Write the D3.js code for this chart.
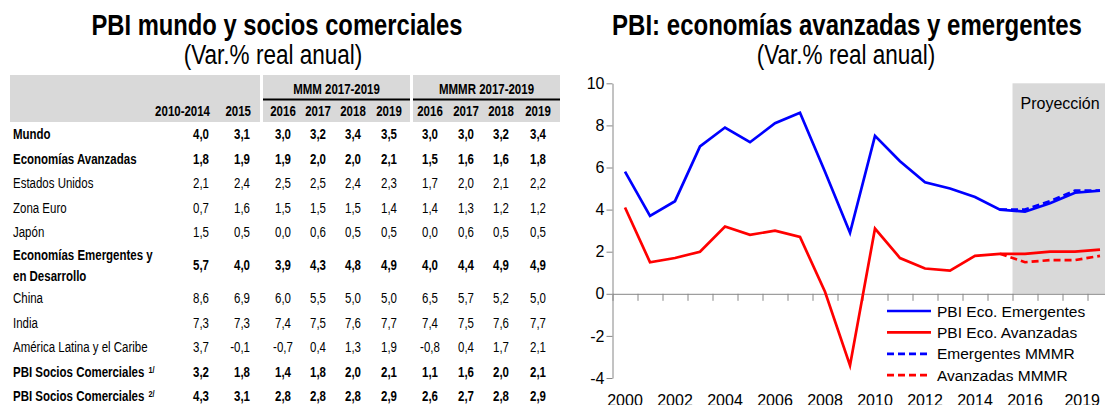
<!DOCTYPE html>
<html>
<head>
<meta charset="utf-8">
<script src="https://cdn.jsdelivr.net/npm/d3@7"></script>
<style>
  body { margin: 0; background: #fff; }
  svg { display: block; }
  text { font-family: "Liberation Sans", Arial, sans-serif; }
  .axis path, .axis line { stroke: #868686; }
  .axis text { fill: #000; font-size: 16px; font-family: "Liberation Sans", Arial, sans-serif; }
</style>
</head>
<body>
<svg id="fig" width="1105" height="405"></svg>
<script>
// ---- table data ----
var rowLabels = ["Mundo", "Economías Avanzadas", "Estados Unidos", "Zona Euro", "Japón",
    "Economías Emergentes y|en Desarrollo", "China", "India", "América Latina y el Caribe",
    "PBI Socios Comerciales", "PBI Socios Comerciales"];
var rowNotes = ["", "", "", "", "", "", "", "", "", "1/", "2/"];
var boldRows = [0, 1, 5, 9, 10];
var colHeaders = ["2010-2014", "2015", "2016", "2017", "2018", "2019", "2016", "2017", "2018", "2019"];
var groupHeaders = ["MMM 2017-2019", "MMMR 2017-2019"];

var avg1014  = [4.0, 1.8, 2.1, 0.7, 1.5, 5.7, 8.6, 7.3, 3.7, 3.2, 4.3];
var y2015    = [3.1, 1.9, 2.4, 1.6, 0.5, 4.0, 6.9, 7.3, -0.1, 1.8, 3.1];
var mmm2016  = [3.0, 1.9, 2.5, 1.5, 0.0, 3.9, 6.0, 7.4, -0.7, 1.4, 2.8];
var mmm2017  = [3.2, 2.0, 2.5, 1.5, 0.6, 4.3, 5.5, 7.5, 0.4, 1.8, 2.8];
var mmm2018  = [3.4, 2.0, 2.4, 1.5, 0.5, 4.8, 5.0, 7.6, 1.3, 2.0, 2.8];
var mmm2019  = [3.5, 2.1, 2.3, 1.4, 0.5, 4.9, 5.0, 7.7, 1.9, 2.1, 2.9];
var mmmr2016 = [3.0, 1.5, 1.7, 1.4, 0.0, 4.0, 6.5, 7.4, -0.8, 1.1, 2.6];
var mmmr2017 = [3.0, 1.6, 2.0, 1.3, 0.6, 4.4, 5.7, 7.5, 0.4, 1.6, 2.7];
var mmmr2018 = [3.2, 1.6, 2.1, 1.2, 0.5, 4.9, 5.2, 7.6, 1.7, 2.0, 2.8];
var mmmr2019 = [3.4, 1.8, 2.2, 1.2, 0.5, 4.9, 5.0, 7.7, 2.1, 2.1, 2.9];

// ---- chart data ----
var years = d3.range(2000, 2020);
var emergentes = [5.8, 3.7, 4.4, 7.0, 7.9, 7.2, 8.1, 8.6, 5.8, 2.9, 7.5, 6.3, 5.3, 5.0, 4.6, 4.0, 3.9, 4.3, 4.8, 4.9];
var avanzadas  = [4.1, 1.5, 1.7, 2.0, 3.2, 2.8, 3.0, 2.7, 0.1, -3.4, 3.1, 1.7, 1.2, 1.1, 1.8, 1.9, 1.9, 2.0, 2.0, 2.1];
var mmmrYears = [2015, 2016, 2017, 2018, 2019];
var emergentesMMMR = [4.0, 4.0, 4.4, 4.9, 4.9];
var avanzadasMMMR  = [1.9, 1.5, 1.6, 1.6, 1.8];
var yTicks = [-4, -2, 0, 2, 4, 6, 8, 10];
var xTickYears = [2000, 2002, 2004, 2006, 2008, 2010, 2012, 2014, 2016, 2019];
var legendLabels = ["PBI Eco. Emergentes", "PBI Eco. Avanzadas", "Emergentes MMMR", "Avanzadas MMMR"];

var svg = d3.select("#fig");
var fmt = d3.formatLocale({decimal: ",", thousands: ".", grouping: [3], currency: ["", ""], minus: "-"}).format(".1f");

// no narrow font installed: squeeze Liberation Sans sideways instead
var NARROW = 0.82;
function narrowText(parent, px, py, size, bold, anchor) {
    return parent.append("text")
        .attr("transform", "translate(" + px + "," + py + ") scale(" + NARROW + ",1)")
        .attr("text-anchor", anchor || "start")
        .style("font-size", size + "px")
        .style("font-weight", bold ? "bold" : "normal");
}

// ================= TABLE =================
var tbl = svg.append("g");

narrowText(tbl, 277, 35, 29, true, "middle").text("PBI mundo y socios comerciales");
narrowText(tbl, 273, 64, 27.5, false, "middle").text("(Var.% real anual)");

var bands = [[10, 260], [263, 410], [413, 560]];
tbl.selectAll("rect.band").data(bands).enter().append("rect")
    .attr("class", "band")
    .attr("x", function(d) { return d[0]; })
    .attr("y", 75)
    .attr("width", function(d) { return d[1] - d[0]; })
    .attr("height", 47)
    .attr("fill", "#d9d9d9");

tbl.selectAll("line.grp").data(bands.slice(1)).enter().append("line")
    .attr("x1", function(d) { return d[0]; })
    .attr("x2", function(d) { return d[1]; })
    .attr("y1", 99.5).attr("y2", 99.5)
    .attr("stroke", "#000").attr("stroke-width", 2);

groupHeaders.forEach(function(g, i) {
    narrowText(tbl, (bands[i + 1][0] + bands[i + 1][1]) / 2, 94, 14, true, "middle").text(g);
});

var colX = [210, 251, 283, 318, 353, 389, 430, 466, 501, 538];
var colAnchor = ["end", "end", "middle", "middle", "middle", "middle", "middle", "middle", "middle", "middle"];
var columns = [avg1014, y2015, mmm2016, mmm2017, mmm2018, mmm2019, mmmr2016, mmmr2017, mmmr2018, mmmr2019];

colHeaders.forEach(function(h, j) {
    narrowText(tbl, colX[j], 116, 14, true, colAnchor[j]).text(h);
});

// row centres: the two-line row takes more room
var rowH = [1, 1, 1, 1, 1, 1.7, 1, 1, 1, 1, 1];
var rowY = [];
var acc = 134;
rowH.forEach(function(h, i) {
    if (i > 0) acc += 24.5 * (rowH[i - 1] + h) / 2;
    rowY.push(acc);
});

rowLabels.forEach(function(lab, i) {
    var bold = boldRows.indexOf(i) >= 0;
    var lines = lab.split("|");
    var t = narrowText(tbl, 13, rowY[i], 14, bold, "start");
    lines.forEach(function(l, k) {
        t.append("tspan").attr("x", 0)
            .attr("y", (k - (lines.length - 1) / 2) * 21)
            .attr("dy", "0.36em")
            .text(l);
    });
    if (rowNotes[i]) {
        t.append("tspan").attr("dx", 5).attr("dy", "-0.45em")
            .style("font-size", "9px").text(rowNotes[i]);
    }
    columns.forEach(function(col, j) {
        narrowText(tbl, colX[j] - (j < 2 ? 1 : 0), rowY[i], 14, bold, colAnchor[j])
            .attr("dy", "0.36em")
            .text(fmt(col[i]));
    });
});

// ================= CHART =================
var ch = svg.append("g");

narrowText(ch, 847, 35, 29.3, true, "middle").text("PBI: economías avanzadas y emergentes");
narrowText(ch, 846, 64, 27.5, false, "middle").text("(Var.% real anual)");

var x = d3.scaleBand().domain(years).range([612.5, 1112.5]);
var xEdge = d3.scaleLinear().domain([0, years.length]).range([612.5, 1112.5]);
var y = d3.scaleLinear().domain([-4, 10]).range([378, 83.3]);
var cx = function(yr) { return x(yr) + x.bandwidth() / 2; };

// projection shading
var projX = xEdge(years.indexOf(2016));
ch.append("rect")
    .attr("x", projX)
    .attr("y", y(10))
    .attr("width", 1105 - projX)
    .attr("height", y(0) - y(10))
    .attr("fill", "#d9d9d9");
ch.append("text")
    .attr("x", projX + 8)
    .attr("y", 109)
    .style("font-size", "16px")
    .text("Proyección");

ch.append("g").attr("class", "axis")
    .attr("transform", "translate(612.5,0)")
    .call(d3.axisLeft(y).tickValues(yTicks).tickSize(6).tickSizeOuter(0).tickPadding(2)
        .tickFormat(function(d) { return d < 0 ? "-" + Math.abs(d) : d; }));

ch.append("g").attr("class", "axis")
    .attr("transform", "translate(0," + y(0) + ")")
    .call(d3.axisBottom(xEdge).tickValues(d3.range(0, years.length + 1)).tickSize(7).tickSizeOuter(0).tickFormat(""));

var xLab = ch.append("g").attr("class", "axis")
    .attr("transform", "translate(0," + y(-4) + ")")
    .call(d3.axisBottom(x).tickValues(xTickYears).tickSize(0).tickPadding(17));
xLab.select(".domain").remove();
xLab.selectAll(".tick").filter(function(d) { return d === 2019; })
    .select("text").attr("text-anchor", "end");

var line = d3.line()
    .x(function(d) { return cx(d[0]); })
    .y(function(d) { return y(d[1]); });

var series = [
    {vals: d3.zip(years, emergentes), color: "#0000ff", dash: null},
    {vals: d3.zip(years, avanzadas), color: "#ff0000", dash: null},
    {vals: d3.zip(mmmrYears, emergentesMMMR), color: "#0000ff", dash: "7,4"},
    {vals: d3.zip(mmmrYears, avanzadasMMMR), color: "#ff0000", dash: "7,4"}
];

ch.selectAll("path.series").data(series).enter().append("path")
    .attr("class", "series")
    .attr("d", function(d) { return line(d.vals); })
    .attr("fill", "none")
    .attr("stroke", function(d) { return d.color; })
    .attr("stroke-width", 2.7)
    .attr("stroke-dasharray", function(d) { return d.dash; });

var leg = ch.selectAll("g.leg").data(legendLabels).enter().append("g")
    .attr("class", "leg")
    .attr("transform", function(d, i) { return "translate(887," + (311 + i * 21.4) + ")"; });
leg.append("line")
    .attr("x1", 0).attr("x2", 44)
    .attr("stroke", function(d, i) { return series[i].color; })
    .attr("stroke-width", 2.7)
    .attr("stroke-dasharray", function(d, i) { return series[i].dash; });
leg.append("text")
    .attr("x", 50).attr("dy", "0.36em")
    .style("font-size", "15.5px")
    .text(function(d) { return d; });
</script>
</body>
</html>
